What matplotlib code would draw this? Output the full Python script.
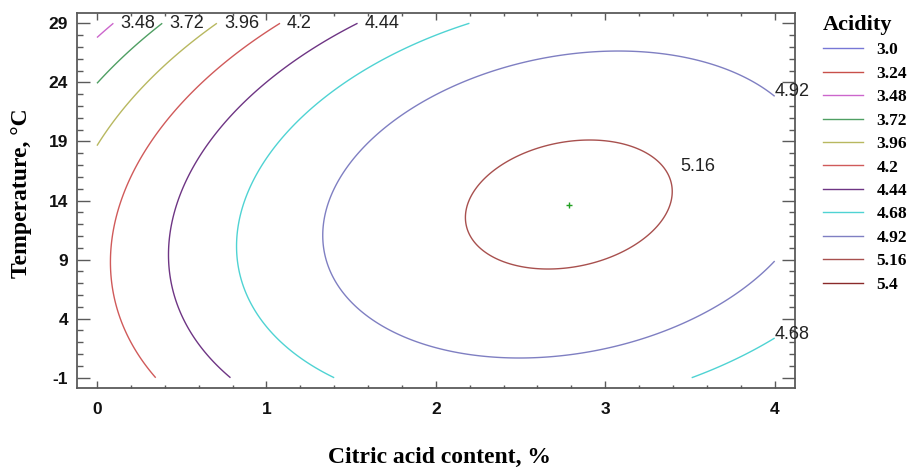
import matplotlib
matplotlib.use("Agg")
import matplotlib.pyplot as plt
import numpy as np
from matplotlib.lines import Line2D
from matplotlib.ticker import FixedLocator, MultipleLocator

plt.rcParams["axes.unicode_minus"] = False

# Contour levels of the fitted acidity surface and their line colours
levels = [3.0, 3.24, 3.48, 3.72, 3.96, 4.2, 4.44, 4.68, 4.92, 5.16, 5.4]
level_labels = ["3.0", "3.24", "3.48", "3.72", "3.96", "4.2", "4.44",
                "4.68", "4.92", "5.16", "5.4"]
level_colors = ["#7777d6", "#c8504a", "#cc66cc", "#4f9f63", "#b8b860",
                "#d05a5a", "#6e3584", "#4fd3d3", "#7f7fc2", "#a8504e",
                "#8a2a2a"]

# Factor ranges (citric acid, %; temperature, deg C)
citric_range = (0.0, 4.0)
temp_range = (-1.0, 29.0)

# Second-order regression coefficients: acidity(c, t)
b0 = 4.00523
b_c = 0.71356
b_t = 0.03113
b_cc = -0.144
b_tt = -0.0018
b_ct = 0.00648

# Optimum point
opt_citric = 2.785
opt_temp = 13.66

x_ticks = [0, 1, 2, 3, 4]
y_ticks = [-1, 4, 9, 14, 19, 24, 29]

# Contour labels: which end of the line carries the label
labelled = {
    3.48: "top", 3.72: "top", 3.96: "top", 4.2: "top", 4.44: "top",
    4.68: "right", 4.92: "right_up", 5.16: "ellipse",
}

fig = plt.figure(figsize=(9.12, 4.68), dpi=100)
ax = fig.add_axes([77 / 912, 1 - 388 / 468, 718 / 912, 375 / 468])

c = np.linspace(*citric_range, 301)
t = np.linspace(*temp_range, 301)
C, T = np.meshgrid(c, t)
Z = b0 + b_c * C + b_t * T + b_cc * C**2 + b_tt * T**2 + b_ct * C * T

cs = ax.contour(C, T, Z, levels=levels, colors=level_colors, linewidths=1.0)

for lev, mode in labelled.items():
    i = levels.index(lev)
    segs = [s for s in cs.allsegs[i] if len(s)]
    if not segs:
        continue
    pts = np.vstack(segs)
    text = level_labels[i]
    if mode == "top":
        p = pts[np.argmax(pts[:, 1])]
        off = (7, 0)
    elif mode == "right":
        p = pts[np.argmax(pts[:, 0] - 1e-3 * pts[:, 1])]
        off = (0, 4)
    elif mode == "right_up":
        xm = pts[:, 0].max()
        edge = pts[pts[:, 0] > xm - 1e-6]
        p = edge[np.argmax(edge[:, 1])]
        off = (0, 5)
    else:
        p = pts[np.argmax(pts[:, 0])]
        off = (8, 25)
    ax.annotate(text, xy=(p[0], p[1]), xytext=off, textcoords="offset pixels",
                ha="left", va="center", fontsize=13, family="Liberation Sans",
                color="#222222", annotation_clip=False)

ax.plot([opt_citric], [opt_temp], marker="+", color="#22a022",
        markersize=4, mew=1.0, linestyle="none")

ax.set_xlim(-0.118, 4.12)
ax.set_ylim(-1.87, 29.87)
ax.xaxis.set_major_locator(FixedLocator(x_ticks))
ax.yaxis.set_major_locator(FixedLocator(y_ticks))
ax.xaxis.set_minor_locator(MultipleLocator(0.2))
ax.yaxis.set_minor_locator(MultipleLocator(1))

spine_col = "#5a5a5a"
for s in ax.spines.values():
    s.set_color(spine_col)
    s.set_linewidth(1.3)
ax.tick_params(which="both", direction="in", top=True, right=True,
               color=spine_col, width=1.0)
ax.tick_params(axis="x", which="major", length=5, pad=10)
ax.tick_params(axis="x", which="minor", length=2.5)
ax.tick_params(axis="y", which="major", length=9.4, pad=6.5)
ax.tick_params(axis="y", which="minor", length=4.5)
for lab in ax.get_xticklabels() + ax.get_yticklabels():
    lab.set_fontfamily("Liberation Sans")
    lab.set_fontweight("bold")
    lab.set_fontsize(12.5)
    lab.set_color("#111111")

fig.text(22 / 912, 1 - 193 / 468, "Temperature, \u00b0C", rotation=90,
         ha="center", va="center", family="Liberation Serif",
         fontweight="bold", fontsize=17)
fig.text(440 / 912, 1 - 457 / 468, "Citric acid content, %",
         ha="center", va="center", family="Liberation Serif",
         fontweight="bold", fontsize=17)

handles = [Line2D([], [], color=col, lw=1.0) for col in level_colors]
leg = fig.legend(handles, level_labels, loc="upper left",
                 bbox_to_anchor=(809 / 912, 1 - 1 / 468), frameon=False,
                 title="Acidity", alignment="left",
                 prop={"family": "Liberation Serif", "weight": "bold", "size": 12.5},
                 title_fontproperties={"family": "Liberation Serif",
                                       "weight": "bold", "size": 16},
                 handlelength=2.3, handletextpad=0.8, labelspacing=0.42,
                 borderpad=0.3)

fig.savefig("out.png", dpi=100)
